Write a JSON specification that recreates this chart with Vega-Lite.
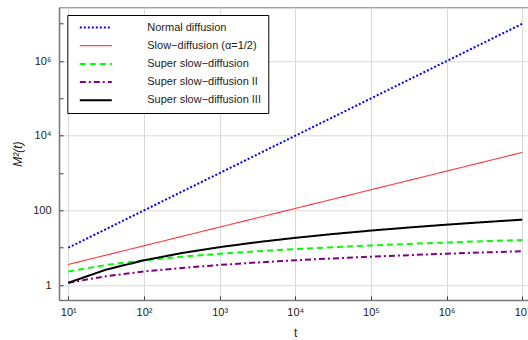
{
  "$schema": "https://vega.github.io/schema/vega-lite/v6.json",
  "width": 472.6,
  "height": 292.7,
  "autosize": {"type": "none"},
  "padding": {"left": 59, "top": 7.3, "right": 0, "bottom": 40},
  "background": "white",
  "config": {
    "font": "Liberation Sans",
    "view": {"stroke": "#777", "strokeWidth": 1}
  },
  "data": {
    "values": [
      {"t": 10, "s": "Normal diffusion", "m": 10},
      {"t": 31.623, "s": "Normal diffusion", "m": 31.623},
      {"t": 100, "s": "Normal diffusion", "m": 100},
      {"t": 316.23, "s": "Normal diffusion", "m": 316.23},
      {"t": 1000, "s": "Normal diffusion", "m": 1000},
      {"t": 3162.3, "s": "Normal diffusion", "m": 3162.3},
      {"t": 10000, "s": "Normal diffusion", "m": 10000},
      {"t": 31623, "s": "Normal diffusion", "m": 31623},
      {"t": 100000, "s": "Normal diffusion", "m": 100000},
      {"t": 316228, "s": "Normal diffusion", "m": 316228},
      {"t": 1000000, "s": "Normal diffusion", "m": 1000000},
      {"t": 3162278, "s": "Normal diffusion", "m": 3162278},
      {"t": 10000000, "s": "Normal diffusion", "m": 10000000},

      {"t": 10, "s": "Slow−diffusion (α=1/2)", "m": 3.567},
      {"t": 31.623, "s": "Slow−diffusion (α=1/2)", "m": 6.343},
      {"t": 100, "s": "Slow−diffusion (α=1/2)", "m": 11.28},
      {"t": 316.23, "s": "Slow−diffusion (α=1/2)", "m": 20.06},
      {"t": 1000, "s": "Slow−diffusion (α=1/2)", "m": 35.67},
      {"t": 3162.3, "s": "Slow−diffusion (α=1/2)", "m": 63.43},
      {"t": 10000, "s": "Slow−diffusion (α=1/2)", "m": 112.8},
      {"t": 31623, "s": "Slow−diffusion (α=1/2)", "m": 200.6},
      {"t": 100000, "s": "Slow−diffusion (α=1/2)", "m": 356.7},
      {"t": 316228, "s": "Slow−diffusion (α=1/2)", "m": 634.3},
      {"t": 1000000, "s": "Slow−diffusion (α=1/2)", "m": 1128},
      {"t": 3162278, "s": "Slow−diffusion (α=1/2)", "m": 2006},
      {"t": 10000000, "s": "Slow−diffusion (α=1/2)", "m": 3567},

      {"t": 10, "s": "Super slow−diffusion", "m": 2.3026},
      {"t": 31.623, "s": "Super slow−diffusion", "m": 3.4539},
      {"t": 100, "s": "Super slow−diffusion", "m": 4.6052},
      {"t": 316.23, "s": "Super slow−diffusion", "m": 5.7565},
      {"t": 1000, "s": "Super slow−diffusion", "m": 6.9078},
      {"t": 3162.3, "s": "Super slow−diffusion", "m": 8.059},
      {"t": 10000, "s": "Super slow−diffusion", "m": 9.2103},
      {"t": 31623, "s": "Super slow−diffusion", "m": 10.3616},
      {"t": 100000, "s": "Super slow−diffusion", "m": 11.5129},
      {"t": 316228, "s": "Super slow−diffusion", "m": 12.6642},
      {"t": 1000000, "s": "Super slow−diffusion", "m": 13.8155},
      {"t": 3162278, "s": "Super slow−diffusion", "m": 14.9668},
      {"t": 10000000, "s": "Super slow−diffusion", "m": 16.1181},

      {"t": 10, "s": "Super slow−diffusion II", "m": 1.1513},
      {"t": 31.623, "s": "Super slow−diffusion II", "m": 1.7269},
      {"t": 100, "s": "Super slow−diffusion II", "m": 2.3026},
      {"t": 316.23, "s": "Super slow−diffusion II", "m": 2.8782},
      {"t": 1000, "s": "Super slow−diffusion II", "m": 3.4539},
      {"t": 3162.3, "s": "Super slow−diffusion II", "m": 4.0295},
      {"t": 10000, "s": "Super slow−diffusion II", "m": 4.6052},
      {"t": 31623, "s": "Super slow−diffusion II", "m": 5.1808},
      {"t": 100000, "s": "Super slow−diffusion II", "m": 5.7565},
      {"t": 316228, "s": "Super slow−diffusion II", "m": 6.3321},
      {"t": 1000000, "s": "Super slow−diffusion II", "m": 6.9078},
      {"t": 3162278, "s": "Super slow−diffusion II", "m": 7.4834},
      {"t": 10000000, "s": "Super slow−diffusion II", "m": 8.059},

      {"t": 10, "s": "Super slow−diffusion III", "m": 1.1513},
      {"t": 31.623, "s": "Super slow−diffusion III", "m": 2.5904},
      {"t": 100, "s": "Super slow−diffusion III", "m": 4.6052},
      {"t": 316.23, "s": "Super slow−diffusion III", "m": 7.1956},
      {"t": 1000, "s": "Super slow−diffusion III", "m": 10.3617},
      {"t": 3162.3, "s": "Super slow−diffusion III", "m": 14.1033},
      {"t": 10000, "s": "Super slow−diffusion III", "m": 18.4206},
      {"t": 31623, "s": "Super slow−diffusion III", "m": 23.3136},
      {"t": 100000, "s": "Super slow−diffusion III", "m": 28.7823},
      {"t": 316228, "s": "Super slow−diffusion III", "m": 34.8266},
      {"t": 1000000, "s": "Super slow−diffusion III", "m": 41.4465},
      {"t": 3162278, "s": "Super slow−diffusion III", "m": 48.6421},
      {"t": 10000000, "s": "Super slow−diffusion III", "m": 56.4134}
    ]
  },
  "mark": {"type": "line", "clip": true},
  "encoding": {
    "x": {
      "field": "t",
      "type": "quantitative",
      "scale": {"type": "log", "domain": [7.534, 13274000], "nice": false, "zero": false},
      "axis": {
        "values": [10, 100, 1000, 10000, 100000, 1000000, 10000000],
        "labelExpr": "'10' + ['⁰','¹','²','³','⁴','⁵','⁶','⁷'][round(log(datum.value)/LN10)]",
        "grid": true,
        "gridColor": "#d9d9d9",
        "gridWidth": 1,
        "tickSize": -4,
        "tickColor": "#333",
        "domainColor": "#777",
        "domainWidth": 1.5,
        "labelPadding": 11,
        "labelFontSize": 11,
        "labelColor": "#222",
        "title": "t",
        "titleFontSize": 12,
        "titleFontWeight": "normal",
        "titleColor": "#222",
        "titlePadding": 10
      }
    },
    "y": {
      "field": "m",
      "type": "quantitative",
      "scale": {"type": "log", "domain": [0.398, 27540000], "nice": false, "zero": false},
      "axis": {
        "values": [1, 10, 100, 1000, 10000, 100000, 1000000, 10000000],
        "labelExpr": "datum.value == 1 ? '1' : datum.value == 100 ? '100' : datum.value == 10000 ? '10⁴' : datum.value == 1000000 ? '10⁶' : ''",
        "grid": true,
        "gridColor": "#d9d9d9",
        "gridOpacity": {"condition": {"test": "round(log(datum.value)/LN10) % 2 == 0", "value": 1}, "value": 0},
        "tickSize": -4,
        "tickColor": "#333",
        "domainColor": "#777",
        "domainWidth": 1.5,
        "labelPadding": 12,
        "labelFontSize": 11,
        "labelColor": "#222",
        "title": "M²(t)",
        "titleFontSize": 12,
        "titleFontWeight": "normal",
        "titleFontStyle": "italic",
        "titleColor": "#222",
        "titlePadding": 8
      }
    },
    "color": {
      "field": "s",
      "type": "nominal",
      "scale": {
        "domain": ["Normal diffusion", "Slow−diffusion (α=1/2)", "Super slow−diffusion", "Super slow−diffusion II", "Super slow−diffusion III"],
        "range": ["#0000ff", "#ff0000", "#00ff00", "#800080", "#000000"]
      },
      "legend": {
        "orient": "none",
        "legendX": 8.3,
        "legendY": 7.7,
        "title": null,
        "fillColor": "white",
        "strokeColor": "black",
        "padding": 7,
        "symbolType": "M-1,0H7",
        "symbolSize": 64,
        "symbolOffset": 4,
        "labelOffset": 58,
        "labelFontSize": 11,
        "labelColor": "#222",
        "labelLimit": 300,
        "rowPadding": 6.2
      }
    },
    "strokeDash": {
      "field": "s",
      "type": "nominal",
      "scale": {
        "domain": ["Normal diffusion", "Slow−diffusion (α=1/2)", "Super slow−diffusion", "Super slow−diffusion II", "Super slow−diffusion III"],
        "range": [[2, 2], [1, 0], [6, 4], [6, 3, 2, 3], [1, 0]]
      }
    },
    "strokeWidth": {
      "field": "s",
      "type": "nominal",
      "scale": {
        "type": "ordinal",
        "domain": ["Normal diffusion", "Slow−diffusion (α=1/2)", "Super slow−diffusion", "Super slow−diffusion II", "Super slow−diffusion III"],
        "range": [2, 1, 2, 2, 2]
      }
    }
  }
}
